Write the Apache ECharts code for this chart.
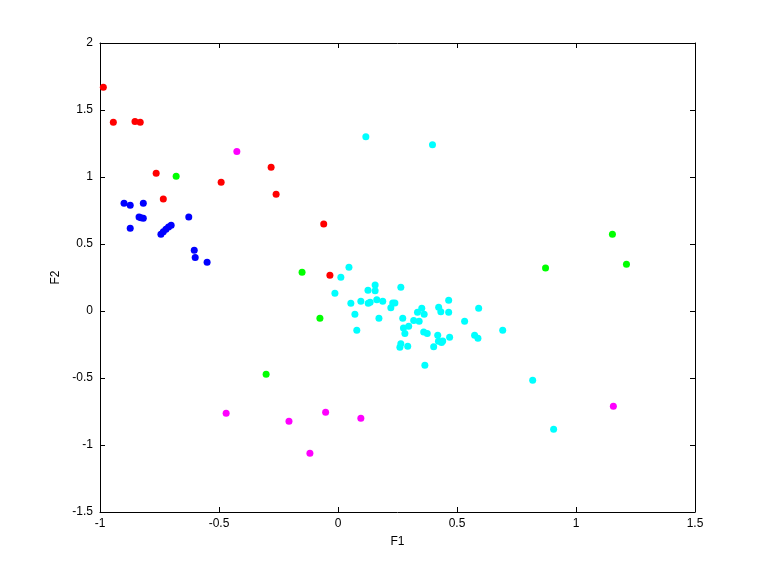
<!DOCTYPE html>
<html>
<head>
<meta charset="utf-8">
<script src="https://cdn.jsdelivr.net/npm/echarts@6/dist/echarts.min.js"></script>
<style>html,body{margin:0;padding:0;background:#fff}#c{width:768px;height:576px}</style>
</head>
<body>
<div id="c"></div>
<script>
var xTicks = [-1, -0.5, 0, 0.5, 1, 1.5];
var yTicks = [-1.5, -1, -0.5, 0, 0.5, 1, 1.5, 2];

var redPts = [[-0.986,1.67],[-0.944,1.408],[-0.853,1.415],[-0.831,1.408],[-0.764,1.028],[-0.734,0.836],[-0.491,0.96],[-0.281,1.072],[-0.26,0.871],[-0.06,0.65],[-0.034,0.266]];
var bluePts = [[-0.899,0.804],[-0.873,0.789],[-0.818,0.804],[-0.836,0.701],[-0.818,0.692],[-0.828,0.696],[-0.873,0.617],[-0.744,0.572],[-0.734,0.592],[-0.723,0.61],[-0.712,0.627],[-0.701,0.64],[-0.627,0.701],[-0.604,0.453],[-0.6,0.40],[-0.55,0.363]];
var greenPts = [[-0.68,1.005],[-0.151,0.289],[-0.076,-0.055],[-0.302,-0.472],[0.872,0.32],[1.153,0.572],[1.212,0.348]];
var magentaPts = [[-0.425,1.19],[-0.47,-0.763],[-0.206,-0.823],[-0.052,-0.756],[0.096,-0.80],[-0.118,-1.062],[1.157,-0.711]];
var cyanPts = [[0.117,1.30],[0.397,1.24],[0.046,0.326],[0.012,0.251],[-0.013,0.132],[0.156,0.194],[0.126,0.154],[0.156,0.151],[0.264,0.177],[0.054,0.057],[0.096,0.072],[0.127,0.057],[0.135,0.065],[0.163,0.084],[0.188,0.072],[0.23,0.06],[0.239,0.06],[0.222,0.025],[0.071,-0.025],[0.172,-0.055],[0.079,-0.144],[0.272,-0.055],[0.275,-0.127],[0.297,-0.114],[0.281,-0.167],[0.264,-0.244],[0.26,-0.271],[0.293,-0.263],[0.318,-0.07],[0.341,-0.077],[0.334,-0.01],[0.352,0.02],[0.362,-0.025],[0.36,-0.157],[0.375,-0.167],[0.365,-0.405],[0.423,0.028],[0.432,-0.005],[0.465,0.08],[0.465,-0.01],[0.419,-0.181],[0.422,-0.226],[0.44,-0.224],[0.435,-0.236],[0.402,-0.266],[0.469,-0.196],[0.532,-0.077],[0.591,0.02],[0.574,-0.181],[0.588,-0.204],[0.692,-0.144],[0.818,-0.517],[0.906,-0.883]];

var font = 'Liberation Sans, Arial, sans-serif';
function fmt(v){ return String(v); }
var axLine = {show:true, onZero:false, lineStyle:{color:'#000', width:1}};
var axTick = {show:true, inside:true, length:5, lineStyle:{color:'#000', width:1}};

var chart = echarts.init(document.getElementById('c'), null, {renderer:'canvas'});
function sc(data, color){
  return {type:'scatter', data:data, symbol:'circle', symbolSize:7, itemStyle:{color:color, opacity:1}, silent:true, animation:false};
}
chart.setOption({
  backgroundColor:'#fff',
  animation:false,
  grid:{left:100, right:73, top:43, bottom:64, containLabel:false},
  xAxis:[
    {type:'value', min:xTicks[0], max:xTicks[xTicks.length-1], interval:0.5, position:'bottom',
     name:'F1', nameLocation:'middle', nameGap:24, nameTextStyle:{fontFamily:font, fontSize:12, color:'#000'},
     axisLine:axLine, axisTick:axTick, splitLine:{show:false},
     axisLabel:{fontFamily:font, fontSize:12, color:'#000', margin:6, formatter:fmt}},
    {type:'value', min:xTicks[0], max:xTicks[xTicks.length-1], interval:0.5, position:'top',
     axisLine:axLine, axisTick:axTick, splitLine:{show:false}, axisLabel:{show:false}}
  ],
  yAxis:[
    {type:'value', min:yTicks[0], max:yTicks[yTicks.length-1], interval:0.5, position:'left',
     name:'F2', nameLocation:'middle', nameGap:30, nameRotate:90, nameTextStyle:{fontFamily:font, fontSize:12, color:'#000'},
     axisLine:axLine, axisTick:axTick, splitLine:{show:false},
     axisLabel:{fontFamily:font, fontSize:12, color:'#000', margin:7, formatter:fmt}},
    {type:'value', min:yTicks[0], max:yTicks[yTicks.length-1], interval:0.5, position:'right',
     axisLine:axLine, axisTick:axTick, splitLine:{show:false}, axisLabel:{show:false}}
  ],
  series:[
    sc(cyanPts,'#00ffff'),
    sc(bluePts,'#0000ff'),
    sc(redPts,'#ff0000'),
    sc(greenPts,'#00ff00'),
    sc(magentaPts,'#ff00ff')
  ]
});
</script>
</body>
</html>
